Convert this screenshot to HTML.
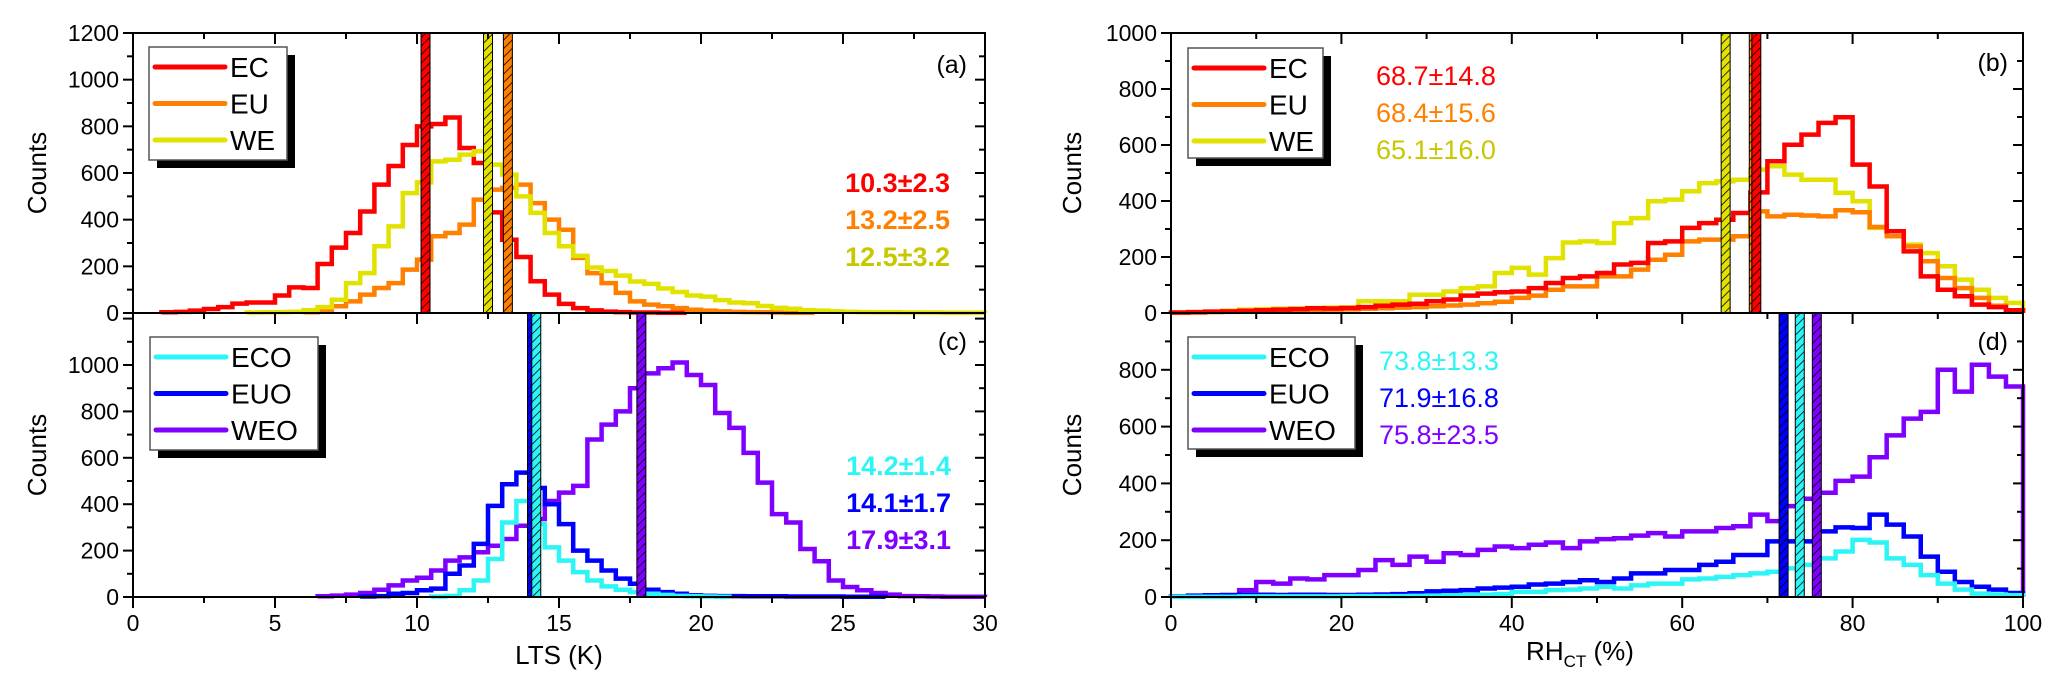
<!DOCTYPE html>
<html><head><meta charset="utf-8">
<style>
html,body{margin:0;padding:0;background:#fff;}
svg{display:block;font-family:"Liberation Sans",Arial,sans-serif;}
</style></head>
<body>
<svg id="chart" width="2067" height="698" viewBox="0 0 2067 698" xmlns="http://www.w3.org/2000/svg">
<defs>
<pattern id="hatch" patternUnits="userSpaceOnUse" width="6" height="6" patternTransform="rotate(45)">
<line x1="0" y1="0" x2="0" y2="6" stroke="#000" stroke-width="1.6"/>
</pattern>
</defs>
<g id="marks"></g>
<g id="axes"></g>
<g id="texts"></g>
</svg>
<script>
// ---------- data ----------
const ltsBinWidth = 0.5;
const rhBinWidth = 2;
const ecLtsStart = 1.0;
const ecLts = [3,5,10,17,25,40,45,45,75,110,107,210,280,343,435,550,630,720,800,810,838,707,643,431,314,240,136,79,39,21,11,6,4,2,2,1,1];
const euLtsStart = 6.0;
const euLts = [3,14,29,50,79,107,128,186,229,329,343,379,486,529,536,550,471,400,357,236,171,128,86,50,36,29,21,14,10,7,5,4,3,2,1,1];
const weLtsStart = 4.0;
const weLts = [2,3,4,5,12,25,57,128,171,286,371,514,560,650,657,679,693,636,593,500,429,343,286,245,195,180,160,135,125,105,90,75,70,55,45,42,30,22,18,12,10,7,5,4,3,3,2,2,2,1,1,1];
const ecoLtsStart = 10.5;
const ecoLts = [2,5,29,71,164,321,414,314,214,157,107,71,46,31,21,14,9,5,3,2,1];
const euoLtsStart = 8.0;
const euoLts = [2,4,14,17,29,36,100,136,229,393,486,536,470,400,314,200,157,114,79,57,31,21,14,7,5,4,4,3,3,3,2,2,2,2,1,1,1];
const weoLtsStart = 6.5;
const weoLts = [3,6,10,17,31,50,71,83,114,157,171,193,221,250,307,336,414,450,479,679,743,800,900,964,986,1011,957,914,793,729,621,493,357,321,207,154,71,43,29,17,10,4,3,2,1,1,1];

const ecRh = [2,3,5,6,8,10,12,14,17,16,18,21,26,30,33,42,48,62,69,74,77,89,107,125,131,143,173,179,250,256,304,321,333,357,431,542,601,637,679,699,530,452,292,220,131,83,60,30,21,10];
const euRh = [1,2,3,4,5,7,8,9,10,12,13,15,17,19,21,24,27,30,35,40,54,62,83,95,95,131,131,155,190,208,256,262,262,274,363,345,351,348,345,367,360,307,274,238,185,125,89,54,26,10];
const weRh = [2,3,5,8,12,14,15,16,18,19,20,42,42,42,65,65,77,89,95,143,161,137,196,252,256,250,321,339,399,405,435,464,470,476,512,524,494,476,476,429,399,304,292,244,214,167,119,83,54,36];
const ecoRh = [1,1,1,1,2,2,2,2,2,2,3,3,3,3,4,5,6,7,8,10,18,18,24,26,30,36,30,41,47,47,62,65,71,77,83,89,101,113,136,160,201,192,136,113,77,47,26,12,9,6];
const euoRh = [2,5,6,7,8,8,7,8,8,7,7,8,9,10,13,20,22,24,30,33,36,44,47,53,59,53,65,83,83,95,95,113,124,148,148,196,196,196,231,245,243,290,255,213,142,89,53,36,26,14];
const weoRh = [1,2,3,5,24,53,47,65,62,77,77,95,130,113,142,124,154,148,166,178,172,184,192,172,196,204,207,216,225,213,231,231,243,249,290,267,320,346,367,409,424,492,569,628,652,800,723,818,776,741];

const meansA = [10.3,12.5,13.2];      // EC, WE, EU
const meansC = [14.2,14.05,17.9];     // ECO, EUO, WEO
const meansB = [65.1,68.4,68.7];      // WE, EU, EC
const meansD = [71.9,73.8,75.8];      // EUO, ECO, WEO
const statsA = ["10.3±2.3","13.2±2.5","12.5±3.2"];
const statsC = ["14.2±1.4","14.1±1.7","17.9±3.1"];
const statsB = ["68.7±14.8","68.4±15.6","65.1±16.0"];
const statsD = ["73.8±13.3","71.9±16.8","75.8±23.5"];
const ltsTicks = [0,5,10,15,20,25,30];
const rhTicks = [0,20,40,60,80,100];

// ---------- scales ----------
const C = {red:"#ff0000",orange:"#ff8000",yellow:"#e2e200",cyan:"#2ef5f5",blue:"#0000ff",purple:"#8000ff"};
const L = {x0:133,x1:985}, R = {x0:1171,x1:2023};
const xL = k => L.x0 + k*(L.x1-L.x0)/30;
const xR = p => R.x0 + p*(R.x1-R.x0)/100;
const yA = v => 313 - v*280/1200;
const yC = v => 597 - v*0.232;
const yB = v => 313 - v*0.28;
const yD = v => 597 - v*0.284;
const NS = "http://www.w3.org/2000/svg";
const marks = document.getElementById('marks');
const axes = document.getElementById('axes');
const texts = document.getElementById('texts');
function mk(tag, attrs, parent){const e=document.createElementNS(NS,tag);for(const k in attrs)e.setAttribute(k,attrs[k]);parent.appendChild(e);return e;}

function hist(vals, start, w, xs, ys, color, name){
  let d = "M"+xs(start)+","+ys(0);
  vals.forEach((v,i)=>{const a=start+i*w;d+=" L"+xs(a)+","+ys(v)+" L"+xs(a+w)+","+ys(v);});
  d += " L"+xs(start+vals.length*w)+","+ys(0);
  const p = mk('path',{d:d,fill:"none",stroke:color,"stroke-width":4.5,"stroke-linejoin":"miter"},marks);
  
  
}
hist(ecLts,ecLtsStart,ltsBinWidth,xL,yA,C.red,'ec-lts-histogram');
hist(euLts,euLtsStart,ltsBinWidth,xL,yA,C.orange,'eu-lts-histogram');
hist(weLts,weLtsStart,ltsBinWidth,xL,yA,C.yellow,'we-lts-histogram');
hist(weoLts,weoLtsStart,ltsBinWidth,xL,yC,C.purple,'weo-lts-histogram');
hist(euoLts,euoLtsStart,ltsBinWidth,xL,yC,C.blue,'euo-lts-histogram');
hist(ecoLts,ecoLtsStart,ltsBinWidth,xL,yC,C.cyan,'eco-lts-histogram');
hist(weRh,0,rhBinWidth,xR,yB,C.yellow,'we-rh-histogram');
hist(euRh,0,rhBinWidth,xR,yB,C.orange,'eu-rh-histogram');
hist(ecRh,0,rhBinWidth,xR,yB,C.red,'ec-rh-histogram');
hist(weoRh,0,rhBinWidth,xR,yD,C.purple,'weo-rh-histogram');
hist(euoRh,0,rhBinWidth,xR,yD,C.blue,'euo-rh-histogram');
hist(ecoRh,0,rhBinWidth,xR,yD,C.cyan,'eco-rh-histogram');

function meanBar(m, xs, top, bot, color, name){
  const x = xs(m)-4.5;
  const g = mk('g',{},marks);
  
  
  mk('rect',{x:x,y:top,width:9,height:bot-top,fill:color},g);
  mk('rect',{x:x,y:top,width:9,height:bot-top,fill:"url(#hatch)",stroke:"#000","stroke-width":1},g);
}
meanBar(meansA[0],xL,33,313,C.red,'ec-mean-bar');
meanBar(meansA[1],xL,33,313,C.yellow,'we-mean-bar');
meanBar(meansA[2],xL,33,313,C.orange,'eu-mean-bar');
meanBar(meansC[1],xL,313,597,C.blue,'euo-mean-bar');
meanBar(meansC[0],xL,313,597,C.cyan,'eco-mean-bar');
meanBar(meansC[2],xL,313,597,C.purple,'weo-mean-bar');
meanBar(meansB[0],xR,33,313,C.yellow,'we-rh-mean-bar');
meanBar(meansB[1],xR,33,313,C.orange,'eu-rh-mean-bar');
meanBar(meansB[2],xR,33,313,C.red,'ec-rh-mean-bar');
meanBar(meansD[0],xR,313,597,C.blue,'euo-rh-mean-bar');
meanBar(meansD[1],xR,313,597,C.cyan,'eco-rh-mean-bar');
meanBar(meansD[2],xR,313,597,C.purple,'weo-rh-mean-bar');

// ---------- axes ----------
function line(x1,y1,x2,y2,w){mk('line',{x1:x1,y1:y1,x2:x2,y2:y2,stroke:"#000","stroke-width":w||2},axes);}
function txt(s,x,y,attrs,name){const t=mk('text',Object.assign({x:x,y:y},attrs),texts);t.textContent=s;return t;}
function frame(P){
  mk('rect',{x:P.x0,y:33,width:P.x1-P.x0,height:564,fill:"none",stroke:"#000","stroke-width":2},axes);
  line(P.x0,313,P.x1,313,2);
}
frame(L); frame(R);

function yTicks(P, ys, max, labelMax, top, bot){
  for(let v=0; v<=max; v+=100){
    const y=ys(v); if(y<top-0.5||y>bot+0.5) continue;
    const major = v%200===0;
    line(P.x0-(major?10:6),y,P.x0,y,2);
    line(P.x1,y,P.x1-(major?10:6),y,2);
    if(major && v<=labelMax) txt(String(v),P.x0-14,y+8,{"font-size":23,"text-anchor":"end",fill:"#000"},'y-tick-label');
  }
}
yTicks(L,yA,1200,1200,33,313);
yTicks(L,yC,1200,1000,313,597);
yTicks(R,yB,1000,1000,33,313);
yTicks(R,yD,1000,800,313,597);

function xTicks(P, xs, ticks){
  const step = ticks[1]-ticks[0];
  for(let i=0;i<ticks.length;i++){
    const vals=[ticks[i]]; if(i<ticks.length-1) vals.push(ticks[i]+step/2);
    vals.forEach((v,j)=>{
      const x=xs(v), len=j===0?11:6;
      line(x,33,x,33+len,2);
      line(x,313,x,313+len,2);
      line(x,597,x,597+len,2);
    });
    txt(String(ticks[i]),xs(ticks[i]),631,{"font-size":23,"text-anchor":"middle",fill:"#000"},'x-tick-label');
  }
}
xTicks(L,xL,ltsTicks);
xTicks(R,xR,rhTicks);

// axis titles
txt("LTS (K)",559,664,{"font-size":26,"text-anchor":"middle"},'x-axis-title-lts');
const rt = txt("RH",1580,660,{"font-size":26,"text-anchor":"middle"},'x-axis-title-rh');
rt.innerHTML = 'RH<tspan font-size="17" dy="7">CT</tspan><tspan dy="-7"> (%)</tspan>';
txt("Counts",0,0,{"font-size":26,"text-anchor":"middle",transform:"translate(46,173) rotate(-90)"},'y-axis-title-a');
txt("Counts",0,0,{"font-size":26,"text-anchor":"middle",transform:"translate(46,455) rotate(-90)"},'y-axis-title-c');
txt("Counts",0,0,{"font-size":26,"text-anchor":"middle",transform:"translate(1081,173) rotate(-90)"},'y-axis-title-b');
txt("Counts",0,0,{"font-size":26,"text-anchor":"middle",transform:"translate(1081,455) rotate(-90)"},'y-axis-title-d');

// panel labels
txt("(a)",967,73,{"font-size":25,"text-anchor":"end"},'panel-label-a');
txt("(c)",967,350,{"font-size":25,"text-anchor":"end"},'panel-label-c');
txt("(b)",2008,71,{"font-size":25,"text-anchor":"end"},'panel-label-b');
txt("(d)",2008,350,{"font-size":25,"text-anchor":"end"},'panel-label-d');

// legends
function legend(x,y,w,h,items,name){
  const g = mk('g',{},texts);
  
  
  mk('rect',{x:x+8,y:y+8,width:w,height:h,fill:"#000"},g);
  mk('rect',{x:x,y:y,width:w,height:h,fill:"#fff",stroke:"#555","stroke-width":1.5},g);
  items.forEach((it,i)=>{
    const cy=y+20+i*36.5;
    mk('line',{x1:x+6,y1:cy,x2:x+76,y2:cy,stroke:it[1],"stroke-width":5,"stroke-linecap":"round"},g);
    const t=mk('text',{x:x+81,y:cy+10,"font-size":28},g); t.textContent=it[0];
    
    
  });
}
legend(149,47,138,113,[["EC",C.red],["EU",C.orange],["WE",C.yellow]],'legend-a');
legend(150,337,168,113,[["ECO",C.cyan],["EUO",C.blue],["WEO",C.purple]],'legend-c');
legend(1188,48,135,110,[["EC",C.red],["EU",C.orange],["WE",C.yellow]],'legend-b');
legend(1188,337,167,112,[["ECO",C.cyan],["EUO",C.blue],["WEO",C.purple]],'legend-d');

// stats
const colA=[C.red,C.orange,"#c8c800"], colC=[C.cyan,C.blue,C.purple];
statsA.forEach((s,i)=>txt(s,950,192+i*37,{"font-size":27,"font-weight":"bold","text-anchor":"end",fill:colA[i]},'stat-a'));
statsC.forEach((s,i)=>txt(s,951,475+i*37,{"font-size":27,"font-weight":"bold","text-anchor":"end",fill:colC[i]},'stat-c'));
statsB.forEach((s,i)=>txt(s,1376,85+i*37,{"font-size":27,fill:colA[i]},'stat-b'));
statsD.forEach((s,i)=>txt(s,1379,370+i*37,{"font-size":27,fill:colC[i]},'stat-d'));
</script>
</body></html>
